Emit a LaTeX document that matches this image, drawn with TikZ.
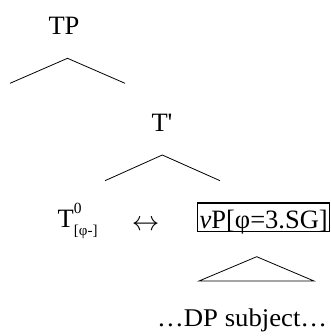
\documentclass[tikz,border=0pt]{standalone}
\usepackage{fontspec}
\setmainfont{Liberation Serif}
\begin{document}
\begin{tikzpicture}[x=1pt,y=-1pt,
  lbl/.style={inner sep=0pt,font=\fontsize{26.5}{30}\selectfont},
  branch/.style={line width=0.8pt},
  boxed/.style={draw,line width=1.3pt,inner xsep=2pt,inner ysep=0pt,text height=25pt,text depth=3.5pt}]
\useasboundingbox (0,0) rectangle (330,336);
% TP
\node[lbl,anchor=base] (tp) at (64,35) {TP};
\coordinate (tpa) at (67.5,58.3);
\coordinate (tpl) at (10,83.3);
\coordinate (tpr) at (125,83.3);
\draw[branch] (tpl) -- (tpa) -- (tpr);
% T'
\node[lbl,anchor=base west] (tbar) at (151.3,131.5) {T\textquotesingle};
\coordinate (tba) at (162.3,155);
\coordinate (tbl) at (105,180.7);
\coordinate (tbr) at (220,180.7);
\draw[branch] (tbl) -- (tba) -- (tbr);
% T0
\node[lbl,anchor=base west] (tzero) at (57.5,227) {T\rlap{\raisebox{14pt}{\fontsize{15.5}{16}\selectfont 0}}\raisebox{-8pt}{\fontsize{15}{16}\selectfont [φ-]}};
\node[lbl] (arr) at (145.7,225) {\resizebox{27.5pt}{!}{$\leftrightarrow$}};
% vP
\node[lbl,boxed,anchor=base west] (vp) at (197,228) {\textit{v}P[φ=3.SG]};
\coordinate (vpa) at (256.7,256.7);
\coordinate (vpl) at (199,281);
\coordinate (vpr) at (314,281);
\draw[branch] (vpl) -- (vpa) -- (vpr) -- cycle;
% DP subject
\node[lbl,anchor=base west,font=\fontsize{25.5}{30}\selectfont] (dp) at (157,326) {\resizebox{170pt}{\height}{…DP subject…}};
\end{tikzpicture}
\end{document}
